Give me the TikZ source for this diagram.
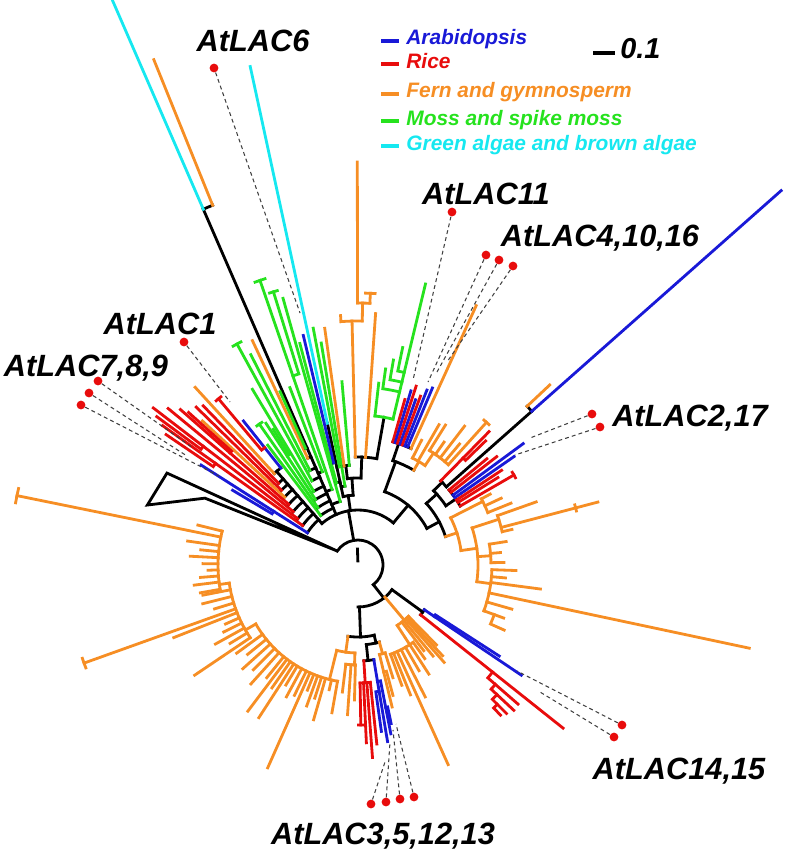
\documentclass[tikz,border=0pt]{standalone}
\usepackage{fontspec}
\setmainfont{Liberation Sans}
\definecolor{arab}{RGB}{25,25,215}
\definecolor{rice}{RGB}{232,12,12}
\definecolor{fern}{RGB}{246,142,36}
\definecolor{moss}{RGB}{38,226,30}
\definecolor{alga}{RGB}{22,232,240}
\tikzstyle{branch} = [line width=1.6pt, line cap=rect]
\tikzstyle{bk} = [branch, black]
\tikzstyle{bl} = [branch, arab]
\tikzstyle{rd} = [branch, rice]
\tikzstyle{og} = [branch, fern]
\tikzstyle{gn} = [branch, moss]
\tikzstyle{cy} = [branch, alga]
\tikzstyle{lead} = [line width=0.6pt, black!75, dash pattern=on 2.2pt off 1.8pt]
\tikzstyle{tipdot} = [circle, fill=rice, inner sep=0pt, minimum size=5pt]
\tikzstyle{gene} = [anchor=base, inner sep=0pt, font=\bfseries\itshape\fontsize{17.5}{20}\selectfont]
\tikzstyle{legtxt} = [anchor=base west, inner sep=0pt, font=\bfseries\itshape\fontsize{11.9}{14}\selectfont]
\tikzstyle{scaletxt} = [anchor=base west, inner sep=0pt, font=\bfseries\itshape\fontsize{16.4}{18}\selectfont]
\tikzstyle{legbar} = [line width=2.2pt]
\newcommand{\radbr}[4]{\draw[#1] (#2:#3) -- (#2:#4);}
\newcommand{\arcbr}[4]{\draw[#1] (#2:#4) arc[start angle=#2, end angle=#3, radius=#4];}
\newcommand{\leafbr}[5]{\draw[#1] (#2:#4) arc[start angle=#2, end angle=#3, radius=#4] -- (#3:#5);}
\newcommand{\stembr}[5]{\draw[bk] (#2:#4) arc[start angle=#2, end angle=#3, radius=#4]; \draw[#1] (#3:#4) -- (#3:#5);}

\begin{document}
\begin{tikzpicture}[x=0.02cm, y=-0.02cm]
  \useasboundingbox (0,0) rectangle (795,849);

  \begin{scope}[shift={(358,565)}]
  % root
  \arcbr{bk}{214}{412}{25}
  \radbr{bk}{268}{4}{16}
  \draw[bk, line join=miter] (214:25) -- (205.7:212) -- (195.9:219) -- (203.6:167) -- cycle;
  \radbr{bk}{260}{25}{55}
  \arcbr{bk}{229}{310}{55}

  % AtLAC1 / AtLAC7,8,9 clade
  \radbr{bk}{229}{55}{124}
  \foreach \a/\r/\e/\c in {212.5/60/186/bl, 215.5/68/240/rd, 217.5/76/258/rd, 219.5/84/246/rd,
      221.2/92/236/rd, 222.8/100/212/og, 224.3/107/226/rd, 225.8/114/222/rd}
    {\stembr{\c}{229}{\a}{\r}{\e}}
  \leafbr{bl}{212.5}{210.8}{100}{146}
  \leafbr{rd}{215.5}{214.2}{175}{232}
  \leafbr{rd}{217.5}{216.4}{195}{250}
  \leafbr{rd}{221.2}{222}{170}{228}
  \arcbr{bk}{227.5}{231.5}{124}
  \radbr{og}{227.5}{124}{241}
  \radbr{bl}{231.5}{124}{184}
  \leafbr{rd}{231.5}{230}{150}{217}
  \arcbr{rd}{229.2}{230.8}{217}

  % moss and algae fan
  \radbr{bk}{246.5}{55}{388}
  \foreach \a/\r/\e/\c in {233/62/150/gn, 235/70/172/gn, 237/78/169/gn, 239/86/205/gn, 241.3/96/252/gn,
      243/106/236/gn, 244.8/118/248/og, 245.8/128/190/gn, 254.3/66/277/gn, 251/80/301/gn, 249/100/190/gn}
    {\stembr{\c}{246.5}{\a}{\r}{\e}}
  \leafbr{gn}{251}{252.8}{200}{286}
  \leafbr{gn}{237}{238}{130}{160}
  \arcbr{gn}{250}{252}{301}
  \arcbr{gn}{252}{253.6}{286}
  \arcbr{gn}{240.3}{242.3}{252}
  \arcbr{gn}{234}{236}{172}
  \arcbr{bk}{246.5}{248}{388}
  \radbr{cy}{246.5}{388}{615}
  \radbr{og}{248}{388}{545}

  % central fan
  \radbr{bk}{262}{55}{70}
  \arcbr{bk}{257.8}{266}{70}
  \radbr{bk}{257.8}{70}{145}
  \radbr{cy}{257.8}{145}{510}
  \stembr{gn}{257.8}{255.3}{85}{229}
  \stembr{bl}{257.8}{256.6}{105}{236}
  \stembr{gn}{257.8}{260.6}{80}{225}
  \stembr{gn}{257.8}{259.3}{100}{241}
  \radbr{bk}{266}{70}{87}
  \arcbr{bk}{263}{272}{87}
  \radbr{bk}{263}{87}{100}
  \arcbr{bk}{262}{265}{100}
  \radbr{og}{262}{100}{239}
  \radbr{gn}{265}{100}{184}
  \radbr{bk}{272}{87}{108}
  \arcbr{bk}{268.6}{280}{108}
  \radbr{og}{268.6}{108}{244}
  \arcbr{og}{266}{271}{244}
  \radbr{og}{266}{244}{250}
  \radbr{og}{271}{244}{262}
  \arcbr{og}{269.9}{272.6}{262}
  \radbr{og}{269.9}{262}{403}
  \radbr{og}{272.6}{262}{272}
  \arcbr{og}{271.6}{273.6}{272}
  \radbr{og}{274}{108}{252}
  \radbr{bk}{280}{108}{150}
  \arcbr{gn}{276.5}{283.5}{150}
  \radbr{gn}{276.5}{150}{183}
  \radbr{gn}{283.5}{150}{289}
  \leafbr{gn}{283.5}{278}{178}{198}
  \leafbr{gn}{283.5}{279.8}{188}{208}
  \leafbr{gn}{283.5}{281.6}{198}{222}

  % AtLAC11 / AtLAC4,10,16 clade
  \radbr{bk}{310}{55}{78}
  \arcbr{bk}{290}{332}{78}
  \radbr{bk}{290}{78}{110}
  \arcbr{bk}{288.5}{300.5}{110}
  \radbr{bk}{288.5}{110}{128}
  \arcbr{bk}{285.8}{294.5}{128}
  \foreach \a/\e/\c in {285.8/172/rd, 286.9/182/bl, 288/188/rd, 289.2/175/bl, 290.3/180/rd,
      291.5/188/bl, 292.8/192/bl, 294.5/285/og}
    {\radbr{\c}{\a}{128}{\e}}
  \radbr{og}{300.5}{110}{120}
  \arcbr{og}{297}{304}{120}
  \radbr{og}{297}{120}{140}
  \radbr{og}{300}{120}{162}
  \radbr{og}{304}{120}{135}
  \arcbr{og}{302}{312}{135}
  \foreach \a/\e in {302/165, 305/150, 307.5/175, 310/158, 312/192}
    {\radbr{og}{\a}{135}{\e}}
  \arcbr{og}{311}{313}{192}

  % AtLAC2,17 clade and long Arabidopsis branch
  \radbr{bk}{332}{78}{92}
  \arcbr{bk}{318}{342}{92}
  \radbr{bk}{318}{92}{106}
  \arcbr{bk}{315.5}{326}{106}
  \radbr{bk}{315.5}{106}{118}
  \arcbr{bk}{314.5}{318.5}{118}
  \radbr{rd}{314.5}{118}{187}
  \leafbr{rd}{314.5}{315.8}{150}{178}
  \radbr{bk}{318.5}{118}{232}
  \arcbr{bk}{316.8}{318.5}{232}
  \radbr{og}{316.8}{232}{263}
  \radbr{bl}{318.5}{232}{565}
  \radbr{bk}{326}{106}{118}
  \arcbr{bk}{320.5}{330}{118}
  \foreach \a/\e/\c in {320.5/167/rd, 322/176/rd, 323.7/205/bl, 325.2/190/bl, 326.6/172/rd, 328/165/rd, 330/180/rd}
    {\radbr{\c}{\a}{118}{\e}}
  \arcbr{rd}{329}{331}{180}

  % fern clade on the right
  \radbr{og}{342}{92}{104}
  \arcbr{og}{333}{352}{104}
  \radbr{og}{333}{104}{140}
  \arcbr{og}{331.8}{338}{140}
  \foreach \a/\e in {331.8/150, 335/158, 338/165}
    {\radbr{og}{\a}{140}{\e}}
  \radbr{og}{352}{104}{120}
  \arcbr{og}{342}{368}{120}
  \radbr{og}{342}{120}{148}
  \arcbr{og}{340.5}{347}{148}
  \foreach \a/\e in {340.5/189, 345.3/248, 347/158}
    {\radbr{og}{\a}{148}{\e}}
  \arcbr{og}{344.5}{346.1}{225}
  \radbr{og}{356}{120}{133}
  \arcbr{og}{351}{359}{133}
  \foreach \a/\e in {351/150, 355/143, 359/146}
    {\radbr{og}{\a}{133}{\e}}
  \radbr{og}{368}{120}{134}
  \arcbr{og}{362}{380}{134}
  \foreach \a/\e in {362/158, 365/148, 367.5/184, 372/400, 376/160, 380/155}
    {\radbr{og}{\a}{134}{\e}}
  \leafbr{og}{380}{384}{145}{160}

  % AtLAC14,15 clade
  \radbr{bk}{52}{25}{42}
  \arcbr{bk}{36}{90}{42}
  \radbr{bk}{36}{42}{80}
  \arcbr{bk}{34}{38.5}{80}
  \radbr{bl}{34}{80}{197}
  \leafbr{bl}{34}{32.8}{92}{168}
  \radbr{rd}{38.5}{80}{262}
  \leafbr{rd}{38.5}{41}{172}{212}
  \leafbr{rd}{41}{43}{182}{213}
  \leafbr{rd}{43}{45}{190}{210}
  \leafbr{rd}{45}{46.5}{197}{207}

  % fern clade below
  \radbr{og}{50}{42}{72}
  \arcbr{og}{45.5}{57}{72}
  \foreach \a/\e in {45.5/112, 47/124, 48.5/130, 50.5/118, 52.5/108}
    {\radbr{og}{\a}{72}{\e}}
  \radbr{og}{57}{72}{95}
  \arcbr{og}{54.5}{70}{95}
  \foreach \a/\e in {54.5/115, 57/130, 60/122, 63/148, 65.7/219, 68/140, 70/128}
    {\radbr{og}{\a}{95}{\e}}

  % AtLAC3,5,12,13 clade
  \radbr{bk}{88}{42}{72}
  \arcbr{bk}{77}{98}{72}
  \radbr{bk}{77}{72}{80}
  \arcbr{bk}{74.5}{84}{80}
  \radbr{og}{74.5}{80}{92}
  \arcbr{og}{72.8}{76.5}{92}
  \radbr{og}{72.8}{92}{118}
  \radbr{og}{76.5}{92}{146}
  \leafbr{og}{76.5}{75}{110}{135}
  \radbr{bk}{84}{80}{96}
  \arcbr{bk}{80.5}{86.5}{96}
  \radbr{bl}{80.5}{96}{179}
  \leafbr{bl}{80.5}{79}{118}{172}
  \leafbr{bl}{80.5}{82}{128}{168}
  \leafbr{bl}{79}{78.2}{145}{162}
  \radbr{rd}{86.5}{96}{118}
  \arcbr{rd}{84}{89}{118}
  \foreach \a/\e in {84/180, 85.7/193, 87.3/178, 89/160}
    {\radbr{rd}{\a}{118}{\e}}
  \arcbr{rd}{88.2}{89.8}{160}

  % large fern clade on the left
  \radbr{og}{98}{72}{88}
  \arcbr{og}{92}{104}{88}
  \radbr{og}{92}{88}{100}
  \arcbr{og}{91.5}{97}{100}
  \foreach \a/\e in {91.5/135, 94/150, 97/128}
    {\radbr{og}{\a}{100}{\e}}
  \radbr{og}{104}{88}{118}
  \arcbr{og}{100}{150}{118}
  \foreach \a/\e in {100/150, 103/128, 106/161, 108/140, 110/150, 112/135, 114/222, 116/145, 118.5/150,
      121/140, 123/182, 125/150, 127/183, 129/145, 132/160, 135/148, 138/155, 141/142, 144/150}
    {\radbr{og}{\a}{118}{\e}}
  \radbr{og}{150}{118}{130}
  \arcbr{og}{146}{172}{130}
  \foreach \a/\e in {146/197, 148.5/150, 151/163, 153.5/150, 156/145, 158.5/198, 160.3/291, 163/150, 166/160, 169/158}
    {\radbr{og}{\a}{130}{\e}}
  \arcbr{og}{159.3}{161.3}{291}
  \radbr{og}{172}{130}{140}
  \arcbr{og}{170}{194}{140}
  \foreach \a/\e in {170/160, 173/165, 175.5/158, 178/150, 180.5/155, 183/168, 185.5/158, 188/172, 191.5/348, 194/165}
    {\radbr{og}{\a}{140}{\e}}
  \arcbr{og}{190.3}{192.7}{348}
  \end{scope}

  % gene labels
  \node[gene] (lac6) at (253,51) {AtLAC6};
  \node[gene] (lac11) at (486,204) {AtLAC11};
  \node[gene] (lac4) at (600,246) {AtLAC4,10,16};
  \node[gene] (lac1) at (160,334) {AtLAC1};
  \node[gene] (lac7) at (86,376) {AtLAC7,8,9};
  \node[gene] (lac2) at (690,426) {AtLAC2,17};
  \node[gene] (lac14) at (679,779) {AtLAC14,15};
  \node[gene] (lac3) at (383,844) {AtLAC3,5,12,13};

  \node[tipdot] (d6) at (214,68) {};
  \node[tipdot] (d11) at (452,212) {};
  \node[tipdot] (d4a) at (486,255) {};
  \node[tipdot] (d4b) at (499,260) {};
  \node[tipdot] (d4c) at (513,266) {};
  \node[tipdot] (d1) at (184,342) {};
  \node[tipdot] (d7a) at (98,381) {};
  \node[tipdot] (d7b) at (89,393) {};
  \node[tipdot] (d7c) at (81,405) {};
  \node[tipdot] (d2a) at (592,414) {};
  \node[tipdot] (d2b) at (600,427) {};
  \node[tipdot] (d14a) at (622,725) {};
  \node[tipdot] (d14b) at (614,737) {};
  \node[tipdot] (d3a) at (371,804) {};
  \node[tipdot] (d3b) at (386,802) {};
  \node[tipdot] (d3c) at (400,799) {};
  \node[tipdot] (d3d) at (414,797) {};

  \coordinate (t6) at (300,313);
  \coordinate (t11) at (413,380);
  \coordinate (t4a) at (428,382);
  \coordinate (t4b) at (437,372);
  \coordinate (t4c) at (447,362);
  \coordinate (t1) at (230,402);
  \coordinate (t7a) at (193,448);
  \coordinate (t7b) at (187,456);
  \coordinate (t7c) at (219,476);
  \coordinate (t2a) at (530,438);
  \coordinate (t2b) at (515,455);
  \coordinate (t14a) at (517,671);
  \coordinate (t14b) at (540,692);
  \coordinate (t3a) at (385,762);
  \coordinate (t3b) at (390,742);
  \coordinate (t3c) at (393,730);
  \coordinate (t3d) at (396,724);

  \foreach \d/\t in {d6/t6, d11/t11, d4a/t4a, d4b/t4b, d4c/t4c, d1/t1, d7a/t7a, d7b/t7b, d7c/t7c,
      d2a/t2a, d2b/t2b, d14a/t14a, d14b/t14b, d3a/t3a, d3b/t3b, d3c/t3c, d3d/t3d}
    {\draw[lead] (\d) -- (\t);}

  % legend
  \draw[legbar, arab] (381,41) -- (399,41);
  \node[legtxt, text=arab] (legA) at (406,44) {Arabidopsis};
  \draw[legbar, rice] (381,64) -- (399,64);
  \node[legtxt, text=rice] (legR) at (406,68) {Rice};
  \draw[legbar, fern] (381,94) -- (399,94);
  \node[legtxt, text=fern] (legF) at (406,97) {Fern and gymnosperm};
  \draw[legbar, moss] (381,121) -- (399,121);
  \node[legtxt, text=moss] (legM) at (406,125) {Moss and spike moss};
  \draw[legbar, alga] (381,146) -- (399,146);
  \node[legtxt, text=alga] (legG) at (406,150) {Green algae and brown algae};

  \coordinate (sbarL) at (593,53);
  \coordinate (sbarR) at (615,53);
  \draw[legbar] (sbarL) -- (sbarR);
  \node[scaletxt] (scale) at (620,58) {0.1};
\end{tikzpicture}
\end{document}
